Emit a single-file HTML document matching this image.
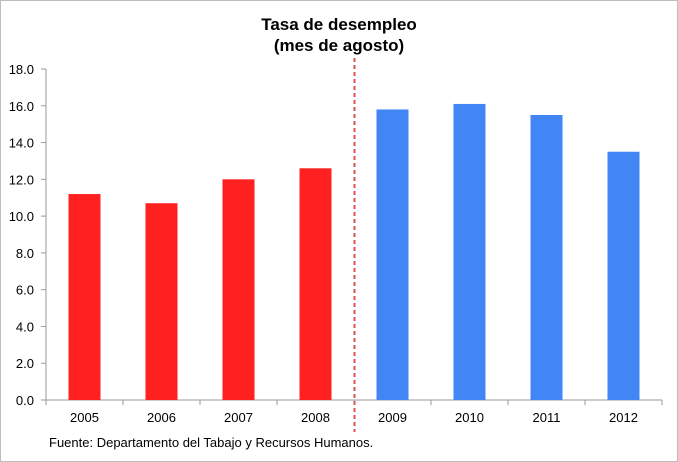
<!DOCTYPE html>
<html><head><meta charset="utf-8"><style>
html,body{margin:0;padding:0;background:#fff;}
svg{display:block;font-family:"Liberation Sans",sans-serif;}
</style></head><body>
<svg width="678" height="462" xmlns="http://www.w3.org/2000/svg">
<rect x="0.5" y="0.5" width="677" height="461" fill="#fff" stroke="#bdbdbd"/>
<text x="339" y="30" text-anchor="middle" font-size="17" font-weight="bold">Tasa de desempleo</text>
<text x="339" y="51" text-anchor="middle" font-size="17" font-weight="bold">(mes de agosto)</text>
<g id="plot"></g>
<text x="49" y="447" font-size="13">Fuente: Departamento del Tabajo y Recursos Humanos.</text>
</svg>
<script>
const categories=["2005","2006","2007","2008","2009","2010","2011","2012"];
const values=[11.2,10.7,12.0,12.6,15.8,16.1,15.5,13.5];
const yTicks=[0,2,4,6,8,10,12,14,16,18];
const x0=46,step=77,y0=400,yTop=69,yMax=18,barW=32;
const ns="http://www.w3.org/2000/svg";
const g=document.getElementById("plot");
function y(v){return y0-(v/yMax)*(y0-yTop);}
function xc(i){return x0+step*(i+0.5);}
function mk(t,a){const e=document.createElementNS(ns,t);for(const k in a)e.setAttribute(k,a[k]);g.appendChild(e);return e;}
let ax=mk("line",{x1:x0,y1:yTop,x2:x0,y2:y0,stroke:"#999"});


let bx=mk("line",{x1:x0,y1:y0,x2:x0+step*categories.length,y2:y0,stroke:"#999"});


yTicks.forEach(v=>{
  const t=mk("line",{x1:x0-5,y1:y(v),x2:x0,y2:y(v),stroke:"#999"});
  
  
  const l=mk("text",{x:x0-12,y:y(v)+5,"text-anchor":"end","font-size":"13"});
  l.textContent=v.toFixed(1);
  
  
});
for(let i=0;i<=categories.length;i++){
  const t=mk("line",{x1:x0+step*i,y1:y0,x2:x0+step*i,y2:y0+5,stroke:"#999"});
  
  
}
categories.forEach((c,i)=>{
  const b=mk("rect",{x:xc(i)-barW/2,y:y(values[i]),width:barW,height:y0-y(values[i]),fill:i<4?"#ff2020":"#4285f4"});
  
  
  const l=mk("text",{x:xc(i),y:y0+22,"text-anchor":"middle","font-size":"13"});
  l.textContent=c;
  
  
});
const d=mk("line",{x1:x0+step*4+0.5,y1:58,x2:x0+step*4+0.5,y2:432,stroke:"#d9534f","stroke-width":"2","stroke-dasharray":"4,3"});


</script>
</body></html>
